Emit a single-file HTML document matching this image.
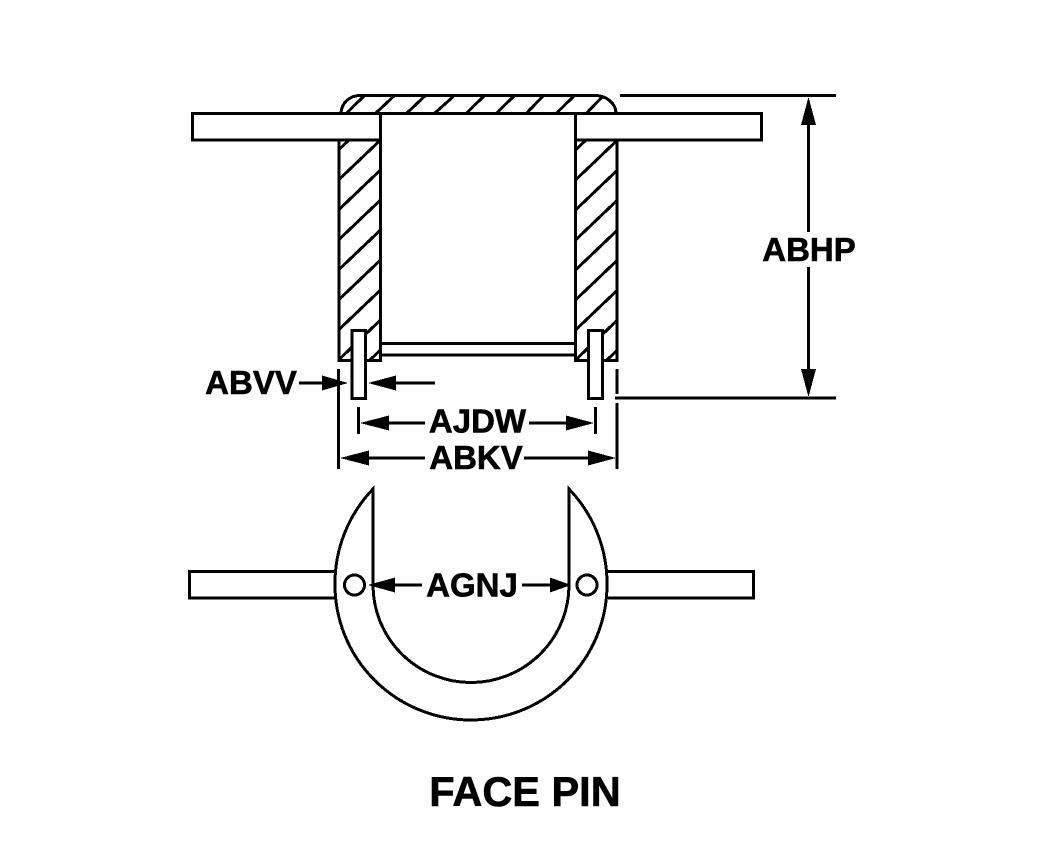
<!DOCTYPE html>
<html>
<head>
<meta charset="utf-8">
<style>
html,body{margin:0;padding:0;background:#fff;}
svg{display:block;}
text{font-family:"Liberation Sans",Arial,sans-serif;font-weight:bold;font-size:33px;fill:#000;stroke:#000;stroke-width:.6px;text-anchor:middle;}
.g{shape-rendering:crispEdges;}
</style>
</head>
<body>
<svg width="1050" height="868" viewBox="0 0 1050 868" xmlns="http://www.w3.org/2000/svg">
<defs>
<clipPath id="ch"><path d="M341 113 A19 18 0 0 1 360 95 H595 A21 18 0 0 1 616 113 Z"/></clipPath>
<clipPath id="cl"><rect x="339" y="140" width="41" height="220"/></clipPath>
<clipPath id="cr"><rect x="576" y="140" width="41" height="220"/></clipPath>
</defs>
<g class="g" fill="none" stroke="#000" stroke-width="3">
<!-- head hatching -->
<g clip-path="url(#ch)">
<path d="M346.7 113L365 95M376 113L395 95M407 113L426 95M435 113L455 95M466.7 113L485 95M496.7 113L515 95M526.7 113L544 95M556.7 113L575 95M586.7 113L604 95"/>
</g>
<path d="M341 113 A19 18 0 0 1 360 95.5 H595 A21 18 0 0 1 616 113"/>
<!-- body hatching -->
<g clip-path="url(#cl)">
<path d="M338 150.5L381 109.5M338 180.5L381 139.5M338 210.5L381 169.5M338 240.5L381 199.5M338 270.5L381 229.5M338 300.5L381 259.5M338 330.5L381 289.5M338 360.5L381 319.5M338 390.5L381 349.5"/>
</g>
<g clip-path="url(#cr)">
<path d="M575 150.5L618 109.5M575 180.5L618 139.5M575 210.5L618 169.5M575 240.5L618 199.5M575 270.5L618 229.5M575 300.5L618 259.5M575 330.5L618 289.5M575 360.5L618 319.5M575 390.5L618 349.5"/>
</g>
<!-- body -->
<path d="M339 140 V360.5 H380.5 V113"/>
<path d="M617 140 V360.5 H575.5 V113"/>
<!-- plates -->
<path d="M380.5 113.5 H192.5 V140 H380.5"/>
<path d="M575.5 113.5 H761.5 V140 H575.5"/>
<path d="M380.5 113.5 H575.5"/>
<path d="M380.5 343.5 H575.5 M380.5 355 H575.5"/>
<!-- pins -->
<rect x="352" y="330.5" width="13.5" height="68" fill="#fff"/>
<rect x="588.5" y="330.5" width="14" height="68" fill="#fff"/>
<!-- extension lines -->
<path d="M620 95.5 H836 M615 398 H836"/>
<path d="M338.5 369 V469 M617 369 V394 M617 403 V469"/>
<path d="M358.5 407 V434 M595.5 407 V434"/>
<!-- dim lines -->
<path d="M808.5 120 V232 M808.5 267 V375"/>
<path d="M299 383 H325 M390 383 H435"/>
<path d="M385 423 H425 M529 423 H570"/>
<path d="M365 458 H425 M524 458 H592"/>
<path d="M390 585 H422 M522 585 H553"/>
<!-- bottom plates -->
<path d="M335 571.5 H189.5 V598 H335"/>
<path d="M608 571.5 H753.5 V598 H608"/>
<!-- U -->
<path d="M373 489 V585 A98 97.5 0 0 0 569 585 V489 A136 136 0 0 1 607 585 A136 135 0 0 1 335 585 A136 136 0 0 1 373 489 Z"/>
<circle cx="354.5" cy="585" r="10" fill="#fff"/>
<circle cx="587" cy="585" r="10" fill="#fff"/>
</g>
<!-- arrowheads -->
<g class="g" fill="#000">
<path d="M808.5 97 L816 125 H801 Z"/>
<path d="M808.5 397 L816 369 H801 Z"/>
<path d="M348 383 L322 375.5 V390.5 Z"/>
<path d="M368 383 L396 375.5 V390.5 Z"/>
<path d="M360 423 L389 415.5 V430.5 Z"/>
<path d="M594 423 L566 415.5 V430.5 Z"/>
<path d="M340 458 L369 450.5 V465.5 Z"/>
<path d="M616 458 L588 450.5 V465.5 Z"/>
<path d="M368 585 L395 577.5 V592.5 Z"/>
<path d="M571 585 L550 577.5 V592.5 Z"/>
</g>
<!-- labels -->
<text x="809" y="261">ABHP</text>
<text x="251" y="394">ABVV</text>
<text x="477.5" y="432.5">AJDW</text>
<text x="476" y="469">ABKV</text>
<text x="472" y="596.5">AGNJ</text>
<text x="525" y="806" style="font-size:41.5px">FACE PIN</text>
</svg>
</body>
</html>
